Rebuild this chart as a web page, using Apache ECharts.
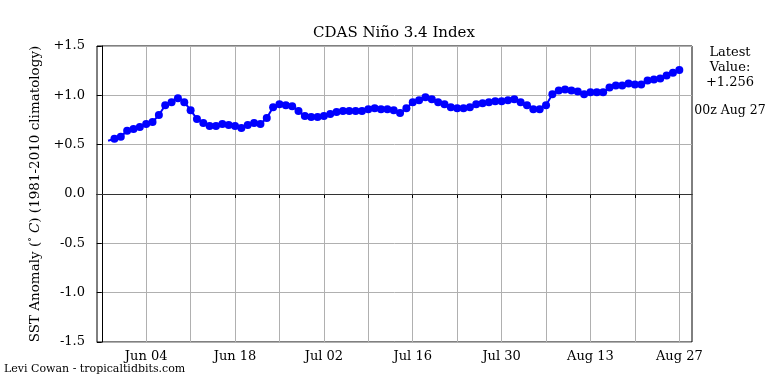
<!DOCTYPE html>
<html>
<head>
<meta charset="utf-8">
<script src="https://cdn.jsdelivr.net/npm/echarts@6/dist/echarts.min.js"></script>
<style>html,body{margin:0;padding:0;background:#fff}#c{width:768px;height:384px}</style>
</head>
<body>
<div id="c"></div>
<script>
// Days counted from May 28 (day 0). First value is May 29 (day 1), daily 00z.
var startDay = 1;
var values = [0.54,
  0.56,0.58,0.64,0.66,0.68,0.71,0.73,0.80,0.90,0.93,
  0.97,0.93,0.85,0.76,0.72,0.69,0.69,0.71,0.70,0.69,
  0.67,0.70,0.72,0.71,0.77,0.88,0.91,0.90,0.89,0.84,
  0.79,0.78,0.78,0.79,0.81,0.83,0.84,0.84,0.84,0.84,
  0.86,0.87,0.86,0.86,0.85,0.82,0.87,0.93,0.95,0.98,
  0.96,0.93,0.91,0.88,0.87,0.87,0.88,0.91,0.92,0.93,
  0.94,0.94,0.95,0.96,0.93,0.90,0.86,0.86,0.90,1.01,
  1.05,1.06,1.05,1.04,1.01,1.03,1.03,1.03,1.08,1.10,
  1.10,1.12,1.11,1.11,1.15,1.16,1.17,1.20,1.23,1.256];
var tickDays = [0,7,14,21,28,35,42,49,56,63,70,77,84,91];
var labelDays = [7,21,35,49,63,77,91];
var labelTexts = ['Jun 04','Jun 18','Jul 02','Jul 16','Jul 30','Aug 13','Aug 27'];
var yTickLabels = {'1.5':'+1.5','1':'+1.0','0.5':'+0.5','0':'0.0','-0.5':'-0.5','-1':'-1.0','-1.5':'-1.5'};
var latestDate = '00z Aug 27';

var font = 'DejaVu Serif';
var seriesData = values.map(function(v,i){
  var item = {value:[startDay+i, v]};
  if (i === 0) item.symbol = 'none';
  return item;
});
var latest = values[values.length-1];

var chart = echarts.init(document.getElementById('c'));
chart.setOption({
  animation:false,
  backgroundColor:'#fff',
  grid:{left:97,right:76,top:46,bottom:42,show:true,borderColor:'#000',borderWidth:1,backgroundColor:'transparent'},
  xAxis:{
    type:'value',min:-0.75,max:93.0,
    axisLine:{show:true,lineStyle:{color:'#000',width:1}},
    axisTick:{show:true,inside:false,length:4,lineStyle:{color:'#000'},customValues:tickDays},
    axisLabel:{show:true,customValues:labelDays,margin:8,color:'#000',fontFamily:font,fontSize:13,
      formatter:function(v){var k=labelDays.indexOf(Math.round(v));return k>=0?labelTexts[k]:'';}},
    splitLine:{show:true,lineStyle:{color:'#b0b0b0',width:1}}
  },
  yAxis:{
    type:'value',min:-1.5,max:1.5,interval:0.5,
    name:'{a|SST Anomaly (}{s|°}{i| C}{a|) (1981-2010 climatology)}',
    nameLocation:'middle',nameRotate:90,nameGap:55,
    nameTextStyle:{color:'#000',fontFamily:font,fontSize:13.5,fontStyle:'normal',
      rich:{a:{fontFamily:font,fontSize:13.5,fontStyle:'normal',color:'#000'},
            s:{fontFamily:font,fontSize:9,fontStyle:'normal',color:'#000',verticalAlign:'top'},
            i:{fontFamily:font,fontSize:13.5,fontStyle:'italic',color:'#000'}}},
    axisLine:{show:true,lineStyle:{color:'#000',width:1}},
    axisTick:{show:true,inside:false,length:5,lineStyle:{color:'#000'}},
    axisLabel:{margin:12,color:'#000',fontFamily:font,fontSize:13,
      formatter:function(v){var k=String(Math.round(v*10)/10);return yTickLabels[k]!==undefined?yTickLabels[k]:v;}},
    splitLine:{show:true,lineStyle:{color:'#b0b0b0',width:1}}
  },
  graphic:[
    {type:'text',x:394,y:33,style:{text:'CDAS Niño 3.4 Index',align:'center',verticalAlign:'middle',font:'15px "DejaVu Serif"',fill:'#000'}},
    {type:'text',x:730,y:45,style:{text:'Latest\nValue:\n'+(latest>0?'+':'')+latest.toFixed(3),align:'center',font:'13px "DejaVu Serif"',lineHeight:15,fill:'#000'}},
    {type:'text',x:730,y:104,style:{text:latestDate,align:'center',font:'12.5px "DejaVu Serif"',fill:'#000'}},
    {type:'text',x:4,y:364,style:{text:'Levi Cowan - tropicaltidbits.com',font:'11px "DejaVu Serif"',fill:'#000'}}
  ],
  series:[{
    type:'line',data:seriesData,
    symbol:'circle',symbolSize:8,showAllSymbol:true,
    itemStyle:{color:'#0000ff'},
    lineStyle:{color:'#0000ff',width:2},
    markLine:{silent:true,symbol:'none',label:{show:false},
      lineStyle:{color:'#333',width:1,type:'solid'},data:[{yAxis:0}]},
    z:3
  }]
});
</script>
</body>
</html>
